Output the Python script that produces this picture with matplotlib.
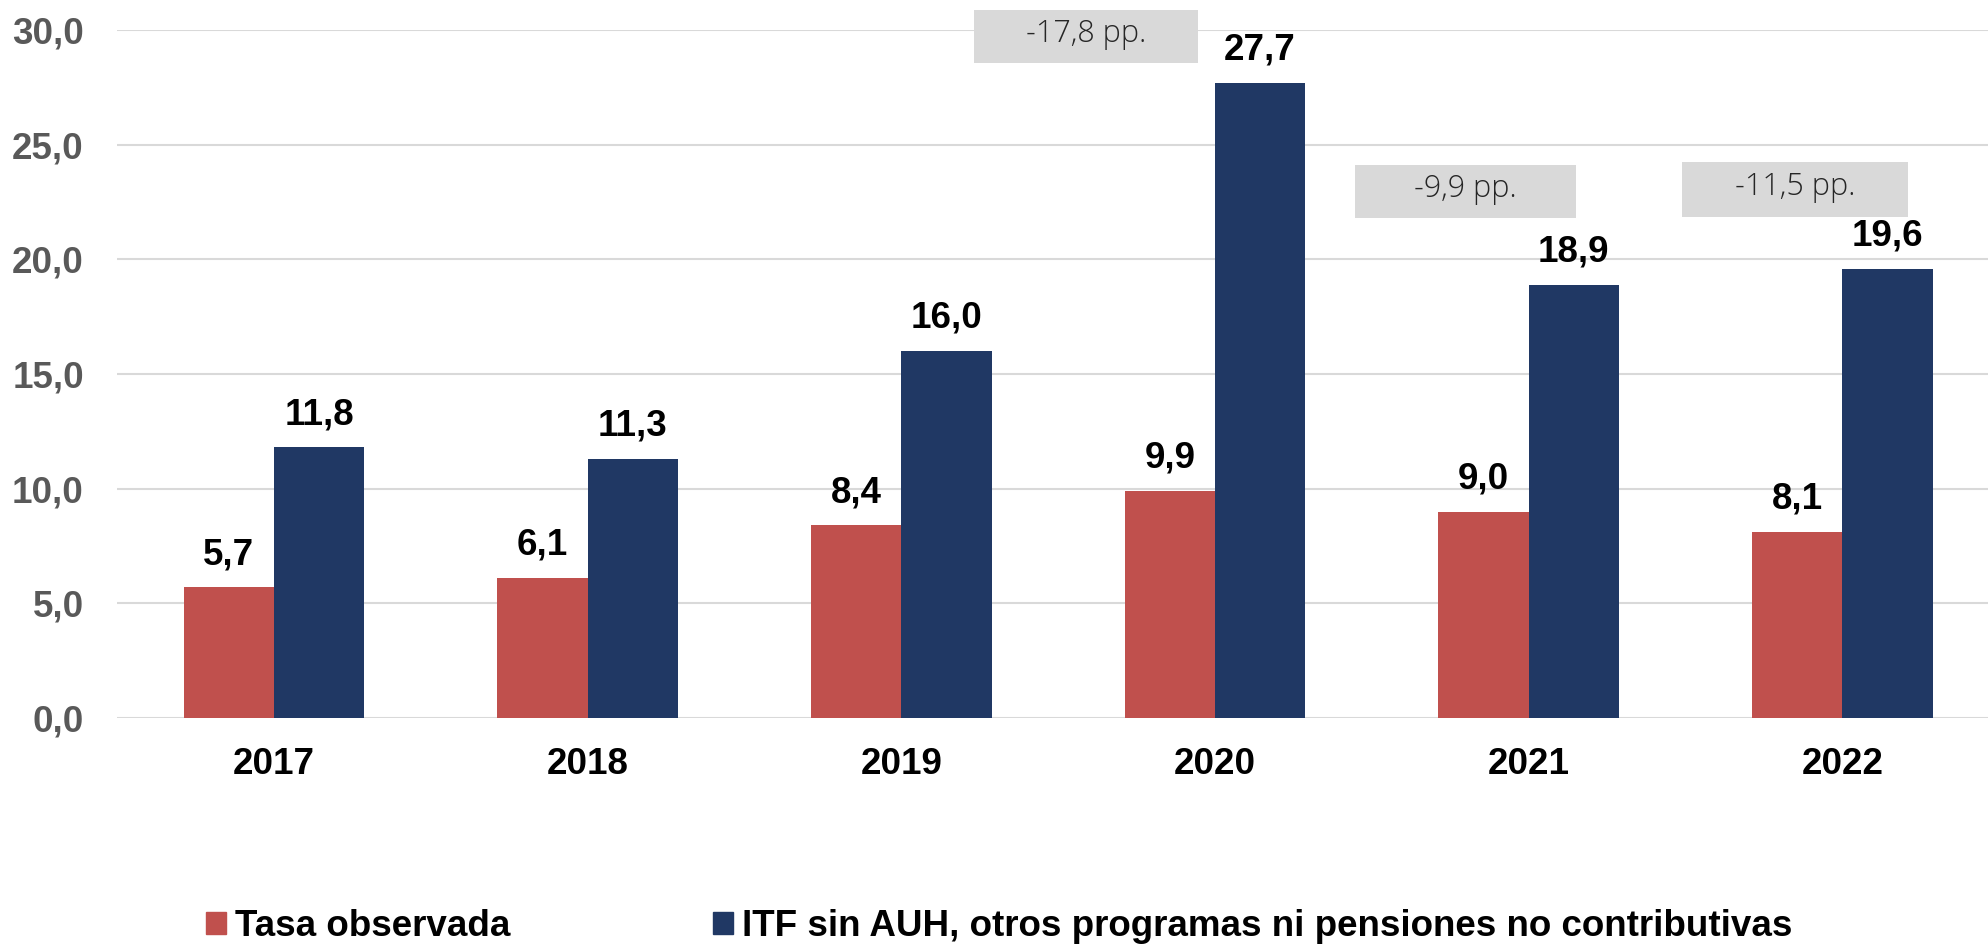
"""
Tasa observada vs ITF sin AUH, otros programas ni pensiones no contributivas.
"""

import numpy as np
from matplotlib import pyplot as plt
from matplotlib.patches import Patch, Rectangle

anios = ['2017', '2018', '2019', '2020', '2021', '2022']
tasa_observada = [5.7, 6.1, 8.4, 9.9, 9.0, 8.1]
itf_sin_auh = [11.8, 11.3, 16.0, 27.7, 18.9, 19.6]

# cajas de diferencia: texto y caja (x0, x1, y0, y1) en datos
dif_textos = ['-17,8 pp.', '-9,9 pp.', '-11,5 pp.']
dif_x0 = [2.232, 3.446, 4.489]
dif_x1 = [2.946, 4.151, 5.209]
dif_y0 = [28.56, 21.81, 21.85]
dif_y1 = [30.87, 24.12, 24.25]

ROJO = '#C0504D'
AZUL = '#203864'
GRIS = '#595959'
plt.rcParams['font.family'] = ['Liberation Sans', 'DejaVu Sans']

fig = plt.figure(figsize=(19.88, 9.47), dpi=100)
ax = fig.add_axes([0.0589, 0.2418, 0.9467, 0.7265])

x = np.arange(len(anios))
ancho = 0.288
b1 = ax.bar(x - ancho/2, tasa_observada, ancho, color=ROJO, zorder=3)
b2 = ax.bar(x + ancho/2, itf_sin_auh, ancho, color=AZUL, zorder=3)

for barras in (b1, b2):
    ax.bar_label(barras, labels=[f'{v:.1f}'.replace('.', ',') for v in barras.datavalues],
                 padding=11, fontsize=26.5, fontweight='bold', color='black')

for t, x0, x1, y0, y1 in zip(dif_textos, dif_x0, dif_x1, dif_y0, dif_y1):
    ax.add_patch(Rectangle((x0, y0), x1 - x0, y1 - y0, fc='#D9D9D9', ec='none',
                           zorder=4, clip_on=False))
    ax.text((x0 + x1)/2, (y0 + y1)/2 + 0.1, t, ha='center', va='center', fontsize=22,
            color='#262626', family=['Open Sans', 'DejaVu Sans'], fontweight='light',
            zorder=5)

ax.set_xlim(-0.5, len(anios) - 0.5)
ax.set_ylim(0, 30)
ax.set_yticks(np.arange(0, 31, 5))
ax.set_yticklabels([f'{v:.1f}'.replace('.', ',') for v in np.arange(0, 31, 5)],
                   fontsize=26.5, fontweight='bold', color=GRIS)
ax.set_xticks(x)
ax.set_xticklabels(anios, fontsize=26.5, fontweight='bold', color='black')
ax.tick_params(axis='y', length=0, pad=24)
ax.tick_params(axis='x', length=0, pad=21)
ax.yaxis.grid(True, color='#D9D9D9', linewidth=1.5, zorder=0)
ax.set_axisbelow(True)
for s in ax.spines.values():
    s.set_visible(False)

handles = [Patch(color=ROJO, label='Tasa observada'),
           Patch(color=AZUL, label='ITF sin AUH, otros programas ni pensiones no contributivas')]
fig.legend(handles=handles, loc='center left', bbox_to_anchor=(0.096, 0.022), ncol=2,
           frameon=False, prop=dict(size=26.5, weight='bold'), handlelength=0.55,
           handleheight=0.55, handletextpad=0.25, columnspacing=5.5, borderaxespad=0)

fig.savefig('out.png', dpi=100)
